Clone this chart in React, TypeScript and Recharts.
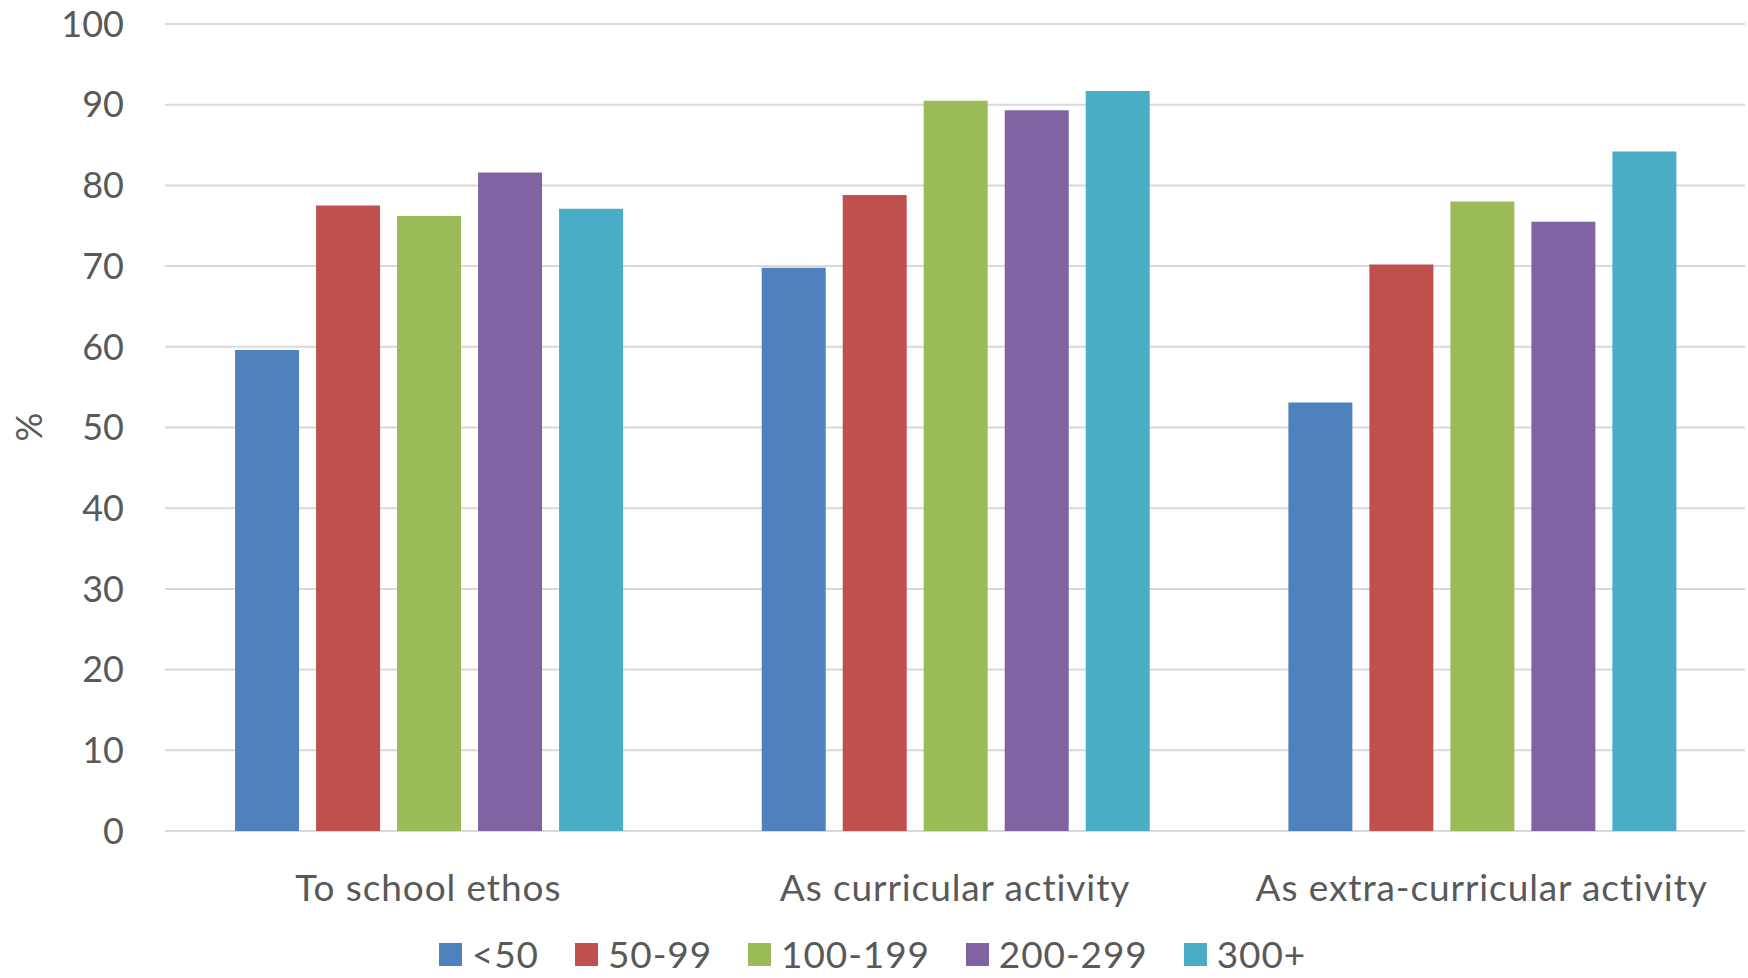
import React from 'react';
import { BarChart, Bar, XAxis, YAxis, CartesianGrid, Legend } from 'recharts';

const categories = ['To school ethos', 'As curricular activity', 'As extra-curricular activity'];
const seriesNames = ['<50', '50-99', '100-199', '200-299', '300+'];
const under50 = [59.6, 69.8, 53.1];
const s50to99 = [77.5, 78.8, 70.2];
const s100to199 = [76.2, 90.5, 78.0];
const s200to299 = [81.6, 89.3, 75.5];
const s300plus = [77.1, 91.7, 84.2];
const yTicks = [0, 10, 20, 30, 40, 50, 60, 70, 80, 90, 100];
const colors = ['#4F81BD', '#C0504D', '#9BBB59', '#8064A2', '#4BACC6'];

const seriesValues = [under50, s50to99, s100to199, s200to299, s300plus];
const data = categories.map((c, i) => {
  const row: Record<string, string | number> = { name: c };
  seriesNames.forEach((s, j) => {
    row[s] = seriesValues[j][i];
  });
  return row;
});

const FONT = 'Lato, "Open Sans", sans-serif';
const TEXT = '#595959';

const XTick = (props: any) => {
  const { x, y, payload } = props;
  return (
    <text
      x={x}
      y={y + 55}
      textAnchor="middle"
      dominantBaseline="central"
      fill={TEXT}
      fontSize={37}
      fontFamily={FONT}
      style={{ letterSpacing: '0.9px' }}
    >
      {payload.value}
    </text>
  );
};

const YLabel = () => (
  <text
    x={28}
    y={427}
    textAnchor="middle"
    dominantBaseline="central"
    fill={TEXT}
    fontSize={36}
    fontFamily={FONT}
    transform="rotate(-90, 28, 427)"
  >
    %
  </text>
);

const LegendContent = () => (
  <div
    style={{
      height: 60,
      boxSizing: 'border-box',
      paddingTop: 14,
      display: 'flex',
      alignItems: 'flex-start',
      justifyContent: 'center',
      fontFamily: FONT,
      fontSize: 37,
      lineHeight: '44px',
      letterSpacing: '0.9px',
      color: TEXT,
    }}
  >
    {seriesNames.map((s, i) => (
      <div
        key={s}
        style={{ display: 'flex', alignItems: 'center', height: 44, marginRight: i < seriesNames.length - 1 ? 36 : 0 }}
      >
        <div style={{ width: 23, height: 23, background: colors[i], marginRight: 10 }} />
        <span>{s}</span>
      </div>
    ))}
  </div>
);

export default function App() {
  return (
    <div style={{ position: 'absolute', left: 0, top: 0, width: 1748, height: 978, background: '#fff' }}>
      <BarChart
        width={1748}
        height={978}
        data={data}
        margin={{ top: 24, right: 3, left: 0, bottom: 0 }}
        barCategoryGap="13.3%"
        barGap={17}
      >
        <CartesianGrid vertical={false} stroke="#D9D9D9" strokeWidth={2} />
        <XAxis
          dataKey="name"
          axisLine={false}
          tickLine={false}
          tickSize={0}
          tickMargin={0}
          height={87}
          tick={<XTick />}
          interval={0}
        />
        <YAxis
          domain={[0, 100]}
          ticks={yTicks}
          width={165}
          axisLine={false}
          tickLine={false}
          tickSize={0}
          tickMargin={41}
          tick={{ fill: TEXT, fontSize: 36, fontFamily: FONT }}
          label={<YLabel />}
        />
        <Legend verticalAlign="bottom" height={60} content={<LegendContent />} />
        {seriesNames.map((s, i) => (
          <Bar key={s} dataKey={s} fill={colors[i]} isAnimationActive={false} />
        ))}
      </BarChart>
    </div>
  );
}
